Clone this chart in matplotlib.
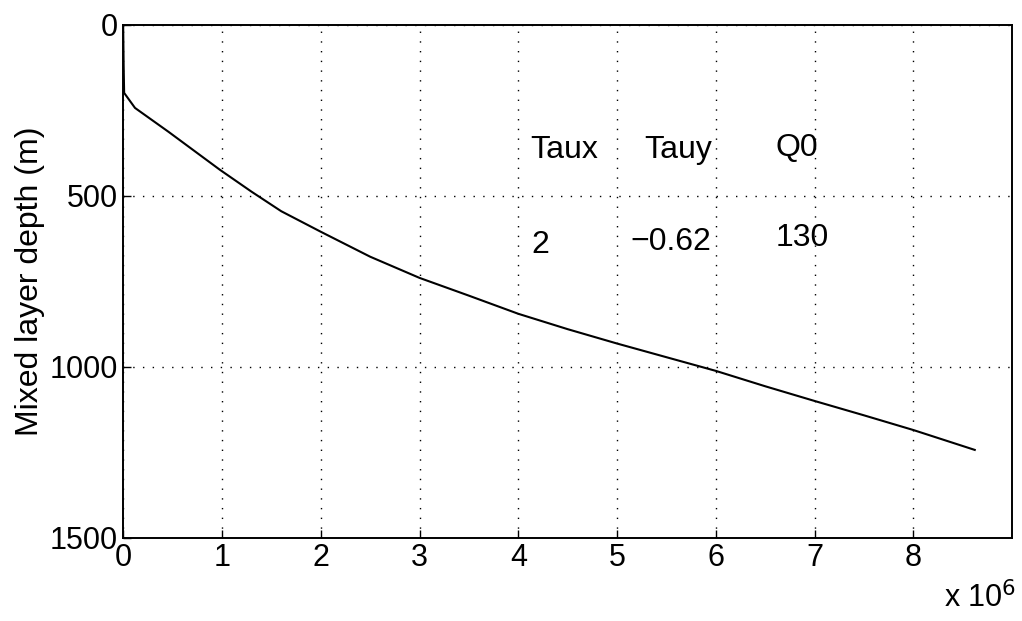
import numpy as np
import matplotlib.pyplot as plt

plt.rcParams['font.family'] = ['Liberation Sans', 'DejaVu Sans']

# Curve (x in units of 1e6, depth in m)
time_e6 = [0.0, 0.005, 0.01, 0.12, 0.46, 0.98, 1.3, 1.6, 2.0, 2.5, 3.0, 3.5,
           4.0, 4.5, 5.0, 5.5, 6.0, 6.5, 7.0, 7.5, 8.0, 8.62]
depth = [0, 120, 199, 243, 313, 424, 488, 545, 605, 678, 740, 792,
         845, 890, 932, 972, 1012, 1057, 1100, 1142, 1185, 1243]

# Parameter table drawn inside the plot
headers = ["Taux", "Tauy", "Q0"]
values = ["2", "\u22120.62", "130"]
head_x = [4.12, 5.27, 6.6]
head_y = [365, 365, 360]
val_x = [4.13, 5.13, 6.6]
val_y = [643, 634, 623]

fig = plt.figure(figsize=(10.22, 6.21), dpi=100)
ax = fig.add_axes([0.1205, 0.134, 0.870, 0.826])

x = np.array(time_e6) * 1e6
ax.plot(x, depth, color="black", lw=1.5)

ax.set_xlim(0, 9e6)
ax.set_ylim(1500, 0)
ax.set_xticks(np.arange(0, 9) * 1e6)
ax.set_xticklabels([str(i) for i in range(9)])
ax.set_yticks([0, 500, 1000, 1500])
ax.grid(True, color="black", linestyle=(0, (1, 6)), linewidth=1.0)
ax.tick_params(direction="in", labelsize=22, length=6, width=1.0, pad=4)
for s in ax.spines.values():
    s.set_linewidth(1.4)

ax.set_ylabel("Mixed layer depth (m)", fontsize=23)
ax.yaxis.set_label_coords(-0.088, 0.5)
fig.text(0.924, 0.036, r"x 10$^{6}$", fontsize=22, ha="left", va="center")

for xx, yy, h in zip(head_x, head_y, headers):
    ax.text(xx * 1e6, yy, h, fontsize=23, ha="left", va="center")
for xx, yy, v in zip(val_x, val_y, values):
    ax.text(xx * 1e6, yy, v, fontsize=23, ha="left", va="center")

fig.savefig("out.png", dpi=100)
